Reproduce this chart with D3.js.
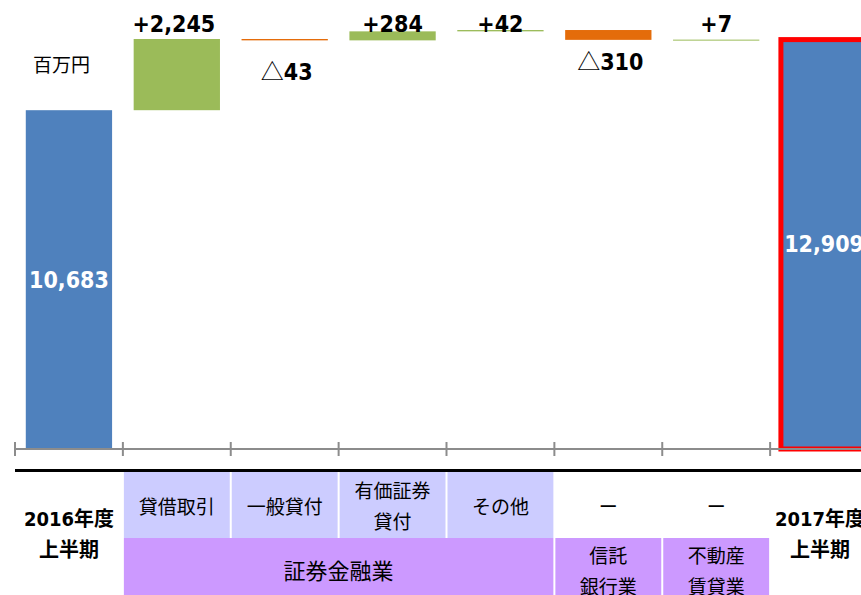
<!DOCTYPE html>
<html><head><meta charset="utf-8">
<script src="https://cdn.jsdelivr.net/npm/d3@7"></script>
<style>body{margin:0;background:#fff;overflow:hidden}</style>
</head><body><svg id="c" width="861" height="595"></svg>
<script>
// ---- data ----
const categories = ["2016H1", "貸借取引", "一般貸付", "有価証券貸付", "その他", "信託銀行業", "不動産賃貸業", "2017H1"];
const values = [10683, 2245, -43, 284, 42, -310, 7, 12909];
const isTotal = [true, false, false, false, false, false, false, true];
const subLabels = ["", "貸借取引", "一般貸付", "有価証券\n貸付", "その他", "ー", "ー", ""];
const groupLabels = ["証券金融業", "信託\n銀行業", "不動産\n賃貸業"];
const groupStart = [1, 5, 6];
const groupEnd = [4, 5, 6];
const periodLabels = ["2016年度\n上半期", "", "", "", "", "", "", "2017年度\n上半期"];
const unitLabel = "百万円";

// ---- styles ----
const BLUE = "#4F81BD", GREEN = "#9BBB59", ORANGE = "#E46C0A", RED = "#FF0000";
const LAV = "#CCCCFF", PURP = "#CC99FF";
const NUMFONT = "'DejaVu Sans Condensed','DejaVu Sans','Noto Sans CJK JP',sans-serif";
const JPFONT = "'Noto Sans CJK JP',sans-serif";
const groupFontSize = [22, 19, 19];

const svg = d3.select("#c");
const x = d3.scaleBand().domain(categories).range([15, 878]).paddingInner(0.2).paddingOuter(0.1);
const y = d3.scaleLinear().domain([0, 14000]).range([449, 5]);
const step = x.step();
const bx = i => 15 + step * i; // band boundary

// waterfall
let cum = 0;
const bars = values.map((v, i) => {
  let a, b;
  if (isTotal[i]) { a = 0; b = v; cum = v; }
  else { a = cum; b = cum + v; cum += v; }
  return { cat: categories[i], v, lo: Math.min(a, b), hi: Math.max(a, b), total: isTotal[i] };
});

const g = svg.append("g");
g.selectAll("rect.bar").data(bars).join("rect")
  .attr("class", "bar")
  .attr("x", d => x(d.cat))
  .attr("width", x.bandwidth())
  .attr("y", d => y(d.hi))
  .attr("height", d => Math.max(1, y(d.lo) - y(d.hi)))
  .attr("fill", d => d.total ? BLUE : (d.v >= 0 ? GREEN : ORANGE))
  .attr("stroke", (d, i) => i === bars.length - 1 ? RED : "none")
  .attr("stroke-width", 5);

// axis
const axisG = svg.append("g");
axisG.append("line").attr("x1", 15).attr("x2", 861).attr("y1", 449).attr("y2", 449)
  .attr("stroke", "#8c8c8c").attr("stroke-width", 2);
d3.range(categories.length + 1).forEach(i => {
  axisG.append("line").attr("x1", bx(i)).attr("x2", bx(i)).attr("y1", 442).attr("y2", 456)
    .attr("stroke", "#8c8c8c").attr("stroke-width", 2);
});

// value labels
const fmt = d3.format(",");
const negDy = { 2: 80, 5: 70 };
bars.forEach((d, i) => {
  const cx = x(d.cat) + x.bandwidth() / 2;
  if (d.total) {
    svg.append("text").attr("x", cx).attr("y", (y(d.hi) + y(d.lo)) / 2)
      .attr("text-anchor", "middle").attr("dominant-baseline", "central")
      .attr("font-family", NUMFONT).attr("font-weight", "bold").attr("font-size", 23)
      .attr("fill", "#fff").text(fmt(d.v));
  } else if (d.v >= 0) {
    svg.append("text").attr("x", cx - (i === 1 ? 3 : 0)).attr("y", 32)
      .attr("text-anchor", "middle")
      .attr("font-family", NUMFONT).attr("font-weight", "bold").attr("font-size", 23)
      .attr("fill", "#000").text("+" + fmt(d.v));
  } else {
    const t = svg.append("text").attr("x", cx + 2).attr("y", negDy[i] || 75)
      .attr("text-anchor", "middle")
      .attr("font-family", NUMFONT).attr("font-weight", "bold").attr("font-size", 23)
      .attr("fill", "#000");
    t.append("tspan").attr("font-family", JPFONT).attr("font-weight", "normal").text("△");
    t.append("tspan").text(fmt(-d.v));
  }
});

// unit
svg.append("text").attr("x", 33).attr("y", 63.5).attr("dominant-baseline", "central")
  .attr("font-family", JPFONT).attr("font-size", 19).attr("fill", "#000").text(unitLabel);

// black separator
svg.append("line").attr("x1", 15).attr("x2", 861).attr("y1", 470.5).attr("y2", 470.5)
  .attr("stroke", "#000").attr("stroke-width", 3);

function multi(txt, cx, cy, opts) {
  const lines = txt.split("\n");
  const lh = 31;
  const t = svg.append("text").attr("text-anchor", "middle").attr("dominant-baseline", "central")
    .attr("font-family", opts.font || JPFONT).attr("font-size", opts.size || 19)
    .attr("font-weight", opts.bold ? "bold" : "normal").attr("fill", "#000");
  lines.forEach((l, k) => {
    t.append("tspan").attr("x", cx).attr("y", cy + (k - (lines.length - 1) / 2) * lh).text(l);
  });
}

// table row 1
const r1top = 472, r1bot = 538, r2bot = 600;
subLabels.forEach((s, i) => {
  if (!s) return;
  const cx = bx(i) + step / 2;
  if (s !== "ー") {
    svg.append("rect").attr("x", bx(i) + 1).attr("y", r1top).attr("width", step - 2)
      .attr("height", r1bot - r1top).attr("fill", LAV);
  }
  multi(s, cx, 504.5, {});
});
// table row 2
groupLabels.forEach((s, k) => {
  const x0 = bx(groupStart[k]) + 1, x1 = bx(groupEnd[k] + 1) - 1;
  svg.append("rect").attr("x", x0).attr("y", r1bot).attr("width", x1 - x0)
    .attr("height", r2bot - r1bot).attr("fill", PURP);
  multi(s, (x0 + x1) / 2, 569, { size: groupFontSize[k] });
});
// period labels
periodLabels.forEach((s, i) => {
  if (!s) return;
  multi(s, bx(i) + step / 2 - (i === 0 ? 0 : 4), 534.5, { bold: true, font: NUMFONT, size: 20 });
});
</script></body></html>
